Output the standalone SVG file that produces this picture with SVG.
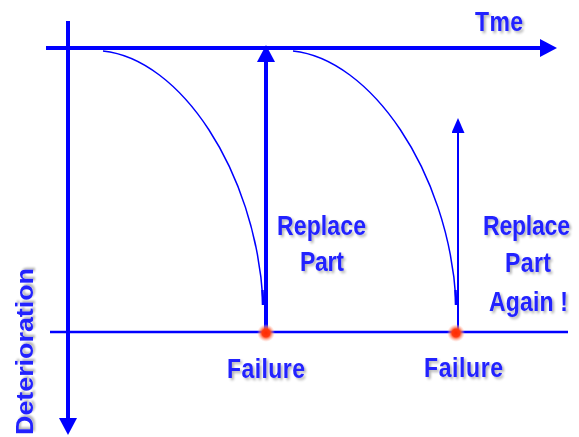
<svg xmlns="http://www.w3.org/2000/svg" width="579" height="437" viewBox="0 0 579 437">
<style>
.ax{stroke:#0000ff;fill:none;stroke-width:4}
.thin{stroke:#0000ff;fill:none;stroke-width:2.5}
.cv{stroke:#0000ff;fill:none;stroke-width:1.5}
.lbl{font-family:"Liberation Sans",Arial,sans-serif;font-weight:bold;font-size:23px;fill:#2222ff;filter:url(#sh)}
</style>
<defs>
<marker id="ah" markerUnits="userSpaceOnUse" markerWidth="17" markerHeight="18" viewBox="0 0 17 18" refX="12" refY="9" orient="auto">
<path d="M0,0 L17,9 L0,18 z" fill="#0000ff"/>
</marker>
<marker id="ahs" markerUnits="userSpaceOnUse" markerWidth="15" markerHeight="13" viewBox="0 0 15 13" refX="11" refY="6.5" orient="auto">
<path d="M0,0 L15,6.5 L0,13 z" fill="#0000ff"/>
</marker>
<radialGradient id="glow">
<stop offset="0" stop-color="#ff2a00"/>
<stop offset="0.45" stop-color="#ff3a10"/>
<stop offset="0.7" stop-color="#ff8060" stop-opacity="0.6"/>
<stop offset="1" stop-color="#ffc0b0" stop-opacity="0"/>
</radialGradient>
<filter id="sh" x="-10%" y="-20%" width="130%" height="150%">
<feGaussianBlur in="SourceAlpha" stdDeviation="1.2"/>
<feOffset dx="1.5" dy="1.5" result="b"/>
<feComponentTransfer><feFuncA type="linear" slope="0.3"/></feComponentTransfer>
<feMerge><feMergeNode/><feMergeNode in="SourceGraphic"/></feMerge>
</filter>
</defs>
<g id="axes">
<line class="ax" x1="46" y1="48" x2="552" y2="48" marker-end="url(#ah)"/>
<line class="ax" x1="68" y1="21" x2="68" y2="430" marker-end="url(#ah)"/>
<line class="thin" x1="50" y1="332" x2="568" y2="332"/>
</g>
<g id="curves">
<path class="cv" d="M103,51 C180,59 255,170 263,300"/>
<path class="cv" d="M293,51 C370,59 448,170 456,300"/>
<path stroke="#0000ff" stroke-width="2.5" fill="none" d="M262.5,290 L263,305"/>
<path stroke="#0000ff" stroke-width="2.5" fill="none" d="M455.5,290 L456,305"/>
</g>
<g id="connectors">
<line class="ax" x1="266" y1="332" x2="266" y2="50" marker-end="url(#ah)"/>
<line stroke="#0000ff" stroke-width="2" x1="458" y1="332" x2="458" y2="122" marker-end="url(#ahs)"/>
</g>
<g id="failure1"><circle cx="266" cy="333" r="9" fill="url(#glow)"/></g>
<g id="failure2"><circle cx="456" cy="333" r="9" fill="url(#glow)"/></g>
<g id="labels">
<text class="lbl" transform="translate(475,31) scale(1,1.2)" textLength="48">Tme</text>
<text class="lbl" transform="translate(33,435) rotate(-90)" x="0" y="0" font-size="27" textLength="167" lengthAdjust="spacingAndGlyphs">Deterioration</text>
<text class="lbl" transform="translate(277,235) scale(1,1.2)" textLength="89">Replace</text>
<text class="lbl" transform="translate(300,271) scale(1,1.2)" textLength="44">Part</text>
<text class="lbl" transform="translate(483,235) scale(1,1.2)" textLength="87">Replace</text>
<text class="lbl" transform="translate(505,272) scale(1,1.2)" textLength="46">Part</text>
<text class="lbl" transform="translate(489,311) scale(1,1.2)" textLength="79">Again !</text>
<text class="lbl" transform="translate(227,378) scale(1,1.2)" textLength="78">Failure</text>
<text class="lbl" transform="translate(424,377) scale(1,1.2)" textLength="79">Failure</text>
</g>
</svg>
